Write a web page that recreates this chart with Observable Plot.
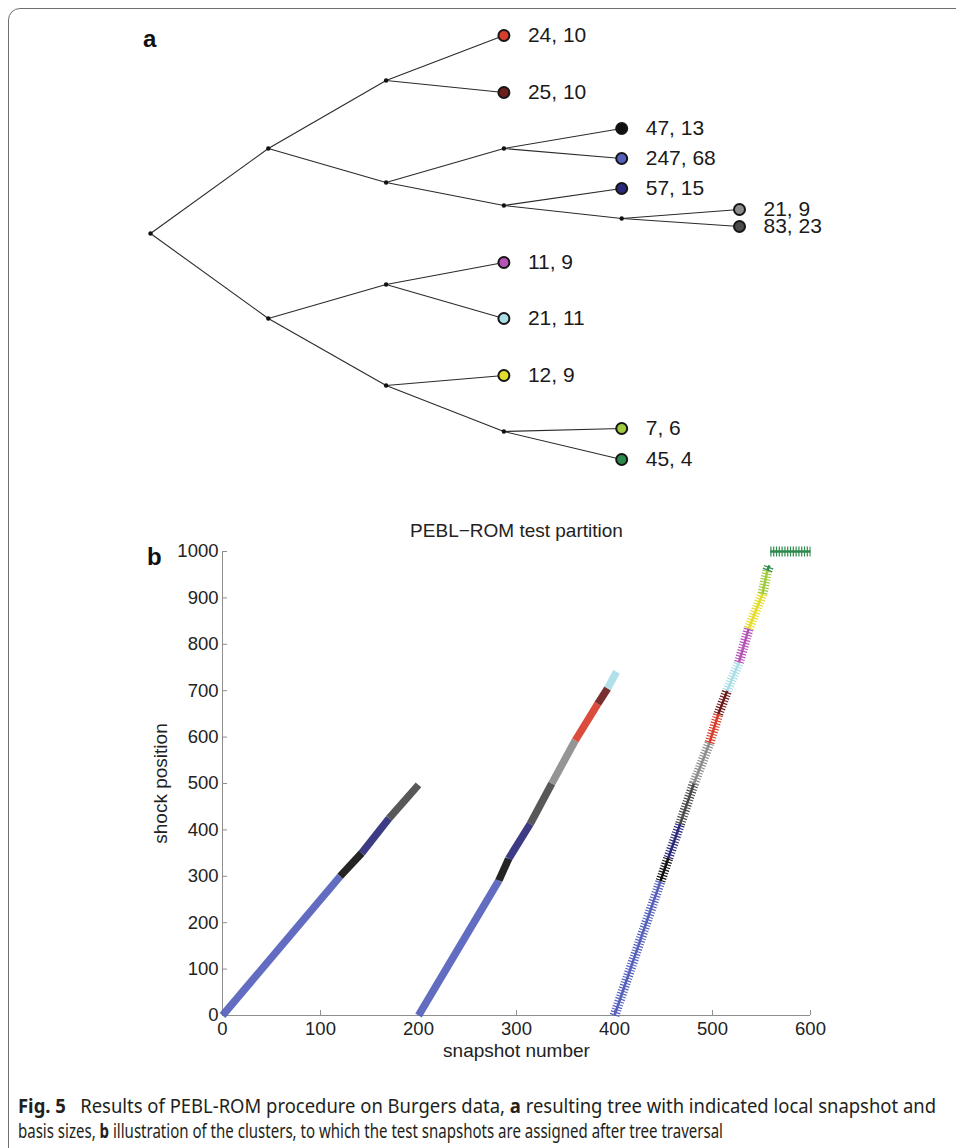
<!DOCTYPE html>
<html>
<head>
<meta charset="utf-8">
<script src="https://cdn.jsdelivr.net/npm/d3@7"></script>
<script src="https://cdn.jsdelivr.net/npm/@observablehq/plot@0.6"></script>
<style>
  html, body { margin: 0; padding: 0; background: #fff; overflow: hidden; }
  #page { position: relative; width: 956px; height: 1148px; overflow: hidden;
          font-family: "Liberation Sans", Arial, sans-serif; color: #1a1a1a; }
  #frame { position: absolute; left: 8px; top: 8px; width: 1100px; height: 1300px;
           border: 1px solid #6f6f6f; border-radius: 12px; }
  #tree { position: absolute; left: 0; top: 0; }
  #scatter { position: absolute; left: 0; top: 490px; }
  #tree svg text, #scatter svg text { font-family: "Liberation Sans", Arial, sans-serif; }
  .letter { position: absolute; font-weight: bold; font-size: 24px; line-height: 24px; color: #111; }
  .capline { position: absolute; left: 18px; white-space: nowrap; transform-origin: 0 50%;
             font-family: "Noto Sans", "Open Sans", sans-serif; font-size: 19px; line-height: 25px;
             color: #231f20; }
</style>
</head>
<body>
<div id="page">
  <div id="frame"></div>
  <div id="tree"></div>
  <div id="scatter"></div>
  <div class="letter" style="left:143px; top:27px;">a</div>
  <div class="letter" style="left:147px; top:545px;">b</div>
  <div class="capline" id="cap1" data-width="918" style="top:1094px;"><b>Fig. 5</b>&nbsp;&nbsp; Results of PEBL-ROM procedure on Burgers data, <b>a</b> resulting tree with indicated local snapshot and</div>
  <div class="capline" id="cap2" data-width="705" style="top:1119px;">basis sizes, <b>b</b> illustration of the clusters, to which the test snapshots are assigned after tree traversal</div>
</div>
<script>
// ---- Clusters (leaf label = "local snapshots, basis size") and their colours ----
const clusterNames  = ["24, 10", "25, 10", "47, 13", "247, 68", "57, 15", "21, 9", "83, 23",
                       "11, 9", "21, 11", "12, 9", "7, 6", "45, 4"];
const clusterColors = ["#d83d2b", "#6e1d1d", "#111111", "#5561bd", "#2c2a7a", "#8c8c8c", "#4a4a4a",
                       "#b653b8", "#abdde7", "#e4dc2c", "#9fcb3e", "#2d8a4c"];

// ---- Tree: node id, parent id, depth, vertical place in the tree ----
const nodeIds     = ["n0", "n1", "n2", "n3", "n4", "n5", "n6", "n7", "n8", "n9", "n10"];
const nodeParents = [null, "n0", "n0", "n1", "n1", "n2", "n2", "n4", "n4", "n6", "n8"];
const nodeDepths  = [0, 1, 1, 2, 2, 2, 2, 3, 3, 3, 4];
const nodeRows    = [23.3, 14.8, 31.8, 8.0, 18.2, 28.4, 38.5, 14.8, 20.5, 43.1, 21.8];

const leafLabels  = ["24, 10", "25, 10", "47, 13", "247, 68", "57, 15", "21, 9", "83, 23",
                     "11, 9", "21, 11", "12, 9", "7, 6", "45, 4"];
const leafParents = ["n3", "n3", "n7", "n7", "n8", "n10", "n10", "n5", "n5", "n6", "n9", "n9"];
const leafDepths  = [3, 3, 4, 4, 4, 5, 5, 3, 3, 3, 4, 4];
const leafRows    = [3.5, 9.2, 12.8, 15.8, 18.8, 20.9, 22.6, 26.2, 31.8, 37.5, 42.8, 45.9];

// ---- Test runs: snapshot / shock position where the assigned cluster changes ----
const run1Snapshot = [0, 120, 142, 170, 200];
const run1Shock    = [0, 300, 350, 425, 497];
const run1Cluster  = ["247, 68", "47, 13", "57, 15", "83, 23"];

const run2Snapshot = [200, 282, 292, 314, 336, 360, 383, 393, 402];
const run2Shock    = [0, 291, 338, 413, 500, 593, 672, 705, 741];
const run2Cluster  = ["247, 68", "47, 13", "57, 15", "83, 23", "21, 9", "24, 10", "25, 10", "21, 11"];

const run3Snapshot = [400, 447, 455, 467, 481, 497, 506, 515, 527, 537, 551, 556, 558];
const run3Shock    = [0, 290, 340, 413, 500, 588, 650, 700, 761, 834, 909, 959, 970];
const run3Cluster  = ["247, 68", "47, 13", "57, 15", "83, 23", "21, 9", "24, 10", "25, 10",
                      "21, 11", "11, 9", "12, 9", "7, 6", "45, 4"];

const plateauSnapshot = [559, 600];
const plateauShock    = [1000, 1000];
const plateauCluster  = "45, 4";

const xTicks = [0, 100, 200, 300, 400, 500, 600];
const yTicks = [0, 100, 200, 300, 400, 500, 600, 700, 800, 900, 1000];

const chartTitle = "PEBL\u2212ROM test partition";
const xLabel = "snapshot number";
const yLabel = "shock position";

// ---- Build tables ----
const nodes = nodeIds.map((id, i) => ({id, parent: nodeParents[i], depth: nodeDepths[i], row: nodeRows[i]}));
const byId = new Map(nodes.map(d => [d.id, d]));
const leaves = leafLabels.map((label, i) => ({label, parent: leafParents[i], depth: leafDepths[i], row: leafRows[i]}));
const edges = [...nodes.filter(d => d.parent), ...leaves].map(d => {
  const p = byId.get(d.parent);
  return {x1: p.depth, y1: p.row, x2: d.depth, y2: d.row};
});

function pieces(snap, shock, cluster, run) {
  return cluster.map((c, i) => ({run, cluster: c, x1: snap[i], y1: shock[i], x2: snap[i + 1], y2: shock[i + 1]}));
}
const denseRuns = [...pieces(run1Snapshot, run1Shock, run1Cluster, 1),
                   ...pieces(run2Snapshot, run2Shock, run2Cluster, 2)];
const sparseRun = [...pieces(run3Snapshot, run3Shock, run3Cluster, 3),
                   {run: 3, cluster: plateauCluster, x1: plateauSnapshot[0], y1: plateauShock[0],
                    x2: plateauSnapshot[1], y2: plateauShock[1]}];

const color = {type: "ordinal", domain: clusterNames, range: clusterColors};
const font = "Liberation Sans, Arial, sans-serif";

// ---- Panel a: cluster tree ----
const treePlot = Plot.plot({
  width: 956, height: 490,
  marginLeft: 150, marginRight: 217, marginTop: 0, marginBottom: 0,
  x: {domain: [0, 5], axis: null},
  y: {domain: [49, 0], axis: null},
  color,
  style: {fontFamily: font, background: "transparent"},
  marks: [
    Plot.link(edges, {x1: "x1", y1: "y1", x2: "x2", y2: "y2", stroke: "#2a2a2a", strokeWidth: 1.1}),
    Plot.dot(nodes, {x: "depth", y: "row", r: 2.2, fill: "#111", stroke: null}),
    Plot.dot(leaves, {x: "depth", y: "row", r: 5.5, fill: "label", stroke: "#151515", strokeWidth: 2}),
    Plot.text(leaves, {x: "depth", y: "row", text: "label", dx: 24, textAnchor: "start",
                       fontSize: 21, fill: "#1a1a1a"})
  ]
});
document.getElementById("tree").appendChild(treePlot);

// ---- Panel b: test snapshots coloured by assigned cluster ----
const scatterPlot = Plot.plot({
  width: 956, height: 580,
  marginLeft: 222, marginRight: 146, marginTop: 61, marginBottom: 55,
  x: {domain: [0, 600]},
  y: {domain: [0, 1000]},
  color,
  style: {fontFamily: font, fontSize: "18px", background: "transparent", color: "#222"},
  marks: [
    Plot.ruleX([0], {stroke: "#8e8e8e"}),
    Plot.ruleY([0], {stroke: "#8e8e8e"}),
    Plot.axisX({ticks: xTicks, tickFormat: d => String(d), tickSize: -5, tickPadding: 11,
                stroke: "#8e8e8e", fill: "#222", fontSize: 18.5, label: null}),
    Plot.axisY({ticks: yTicks, tickFormat: d => String(d), tickSize: -5, tickPadding: 9,
                stroke: "#8e8e8e", fill: "#222", fontSize: 18.5, label: null}),
    // densely sampled runs: overlapping "+" markers merge into a band
    Plot.link(denseRuns, {x1: "x1", y1: "y1", x2: "x2", y2: "y2", stroke: "cluster",
                          strokeWidth: 7.5, strokeOpacity: 0.92, strokeLinecap: "butt"}),
    // sparser run: individual "+" markers remain visible
    Plot.link(sparseRun, {x1: "x1", y1: "y1", x2: "x2", y2: "y2", stroke: "cluster",
                          strokeWidth: 10, strokeDasharray: "1.2,1.6", strokeLinecap: "butt"}),
    Plot.link(sparseRun, {x1: "x1", y1: "y1", x2: "x2", y2: "y2", stroke: "cluster",
                          strokeWidth: 2.5, strokeLinecap: "butt"}),
    Plot.text([chartTitle], {frameAnchor: "top", dy: -21, text: d => d, lineAnchor: "middle",
                             fontSize: 19, fill: "#222"}),
    Plot.text([xLabel], {frameAnchor: "bottom", dy: 35, text: d => d, lineAnchor: "middle",
                         fontSize: 19, fill: "#222"}),
    Plot.text([yLabel], {frameAnchor: "left", dx: -62, rotate: -90, text: d => d,
                         textAnchor: "middle", lineAnchor: "middle", fontSize: 19, fill: "#222"})
  ]
});
document.getElementById("scatter").appendChild(scatterPlot);

// ---- Caption lines: squeeze each to its line width ----
for (const line of document.querySelectorAll(".capline")) {
  const target = +line.dataset.width;
  const natural = line.getBoundingClientRect().width;
  if (natural > 0) line.style.transform = `scaleX(${target / natural})`;
}
</script>
</body>
</html>
